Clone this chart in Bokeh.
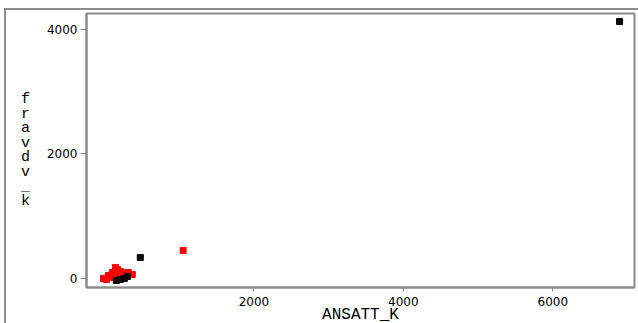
from bokeh.plotting import figure
from bokeh.models import FixedTicker
from bokeh.embed import file_html
from bokeh.resources import INLINE

# Red group
red_x = [-13, 27, 53, 80, 107, 120, 147, 173, 213, 267, 320, 373, 60, 150, 240, 1053]
red_y = [0, -16, 48, 16, 96, 32, 177, 145, 112, 96, 96, 64, 20, 60, 50, 450]
# Black group
black_x = [160, 213, 267, 307, 480, 6893]
black_y = [-32, -16, 0, 32, 337, 4128]

x_ticks = [2000, 4000, 6000]
y_ticks = [0, 2000, 4000]

p = figure(frame_width=548, frame_height=274, output_backend="svg", toolbar_location=None,
           x_range=(-240, 7093), y_range=(-145, 4257),
           min_border_left=80, min_border_right=4, min_border_top=3, min_border_bottom=30)

p.scatter(red_x, red_y, marker="square", size=6, color="#ff0000")
p.scatter(black_x, black_y, marker="square", size=6, color="#000000")

p.xgrid.visible = False
p.ygrid.visible = False
p.outline_line_color = "#8c8c8c"
p.outline_line_width = 2

p.xaxis.ticker = FixedTicker(ticks=x_ticks)
p.yaxis.ticker = FixedTicker(ticks=y_ticks)
p.xaxis.minor_tick_line_color = None
p.yaxis.minor_tick_line_color = None

for ax in (p.xaxis[0], p.yaxis[0]):
    ax.axis_line_color = "#8c8c8c"
    ax.axis_line_width = 2
    ax.major_tick_line_color = "#8c8c8c"
    ax.major_tick_in = 0
    ax.major_label_text_font = "DejaVu Sans"
    ax.major_label_text_font_size = "12px"
    ax.major_label_text_color = "#000000"
    ax.axis_label_text_font = "Liberation Mono"
    ax.axis_label_text_font_style = "normal"
    ax.axis_label_text_color = "#000000"

p.xaxis.major_tick_out = 4
p.xaxis.major_label_standoff = 5
p.yaxis.major_tick_out = 6
p.yaxis.major_label_standoff = 3
p.xaxis.axis_label = "ANSATT_K"
p.xaxis.axis_label_text_font_size = "16px"
p.xaxis.axis_label_standoff = -3
p.yaxis.axis_label = "f\nr\na\nv\nd\nv\n_\nk"
p.yaxis.axis_label_orientation = "horizontal"
p.yaxis.axis_label_text_font_size = "15px"
p.yaxis.axis_label_text_line_height = 0.85
p.yaxis.axis_label_standoff = 14

p.styles = {"margin-left": "4px", "margin-top": "8px",
            "border-left": "2px solid #8c8c8c", "border-top": "2px solid #8c8c8c"}

open("out.html", "w").write(file_html(p, INLINE))
